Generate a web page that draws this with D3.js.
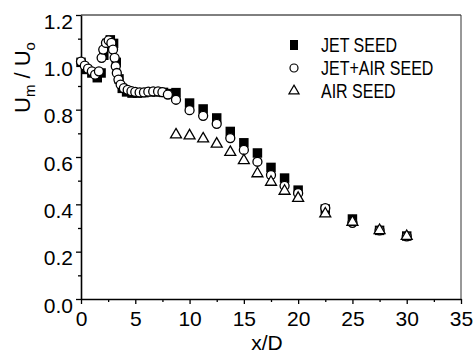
<!DOCTYPE html>
<html>
<head>
<meta charset="utf-8">
<script src="https://cdn.jsdelivr.net/npm/d3@7"></script>
<style>
  html, body { margin: 0; padding: 0; background: #fff; }
  svg { display: block; }
  text { font-family: "Liberation Sans", Arial, sans-serif; fill: #000; }
</style>
</head>
<body>
<svg id="chart" width="475" height="354"></svg>
<script>
// ---- data ----
const jetSeedX = [0, 0.5, 1.0, 1.5, 1.85, 2.1, 2.4, 2.7, 3.0, 3.25, 3.5, 3.8, 4.2, 4.7, 5.2, 5.8, 6.4, 7.0, 7.6, 8.1,
                  8.75, 10, 11.25, 12.5, 13.75, 15, 16.25, 17.5, 18.75, 20, 22.5, 25, 27.5, 30];
const jetSeedY = [1.0, 0.97, 0.955, 0.935, 0.955, 1.03, 1.08, 1.095, 1.08, 1.0, 0.93, 0.89, 0.875, 0.87, 0.87, 0.872, 0.875, 0.875, 0.873, 0.868,
                  0.872, 0.828, 0.803, 0.765, 0.708, 0.66, 0.617, 0.556, 0.511, 0.46, 0.38, 0.338, 0.29, 0.266];

const jetAirX = [0, 0.35, 0.65, 1.0, 1.3, 1.65, 1.9, 2.05, 2.3, 2.55, 2.8, 2.95, 3.1, 3.2, 3.3, 3.45, 3.65, 3.95, 4.3, 4.65,
                 5.0, 5.4, 5.8, 6.2, 6.65, 7.1, 7.5, 8.0, 8.75, 10, 11.25, 12.5, 13.75, 15, 16.25, 17.5, 18.75, 20, 22.5, 25, 27.5, 30];
const jetAirY = [1.003, 0.986, 0.973, 0.962, 0.948, 0.962, 1.019, 1.054, 1.082, 1.093, 1.082, 1.054, 1.019, 0.983, 0.955, 0.927, 0.906, 0.891, 0.884, 0.878,
                 0.875, 0.873, 0.873, 0.876, 0.877, 0.877, 0.874, 0.864, 0.842, 0.798, 0.774, 0.74, 0.68, 0.63, 0.58, 0.524, 0.478, 0.447, 0.384, 0.322, 0.29, 0.265];

const airSeedX = [8.75, 10, 11.25, 12.5, 13.75, 15, 16.25, 17.5, 18.75, 20, 22.5, 25, 27.5, 30];
const airSeedY = [0.694, 0.69, 0.677, 0.655, 0.62, 0.585, 0.53, 0.494, 0.456, 0.426, 0.36, 0.325, 0.29, 0.265];

const seriesNames = ["JET SEED", "JET+AIR SEED", "AIR SEED"];
const xTickValues = [0, 5, 10, 15, 20, 25, 30, 35];
const xMinorValues = [2.5, 7.5, 12.5, 17.5, 22.5, 27.5, 32.5];
const yTickValues = [0, 0.2, 0.4, 0.6, 0.8, 1.0, 1.2];
const yTickLabels = ["0.0", "0.2", "0.4", "0.6", "0.8", "1.0", "1.2"];
const yMinorValues = [0.1, 0.3, 0.5, 0.7, 0.9, 1.1];
const xTitle = "x/D";

// ---- layout ----
const L = 81, R = 461, T = 15, B = 299;
const svg = d3.select("#chart");
const x = d3.scaleLinear().domain([0, 35]).range([L, R]);
const y = d3.scaleLinear().domain([0, 1.2]).range([B, T]);

// frame top/right
svg.append("line").attr("x1", L).attr("x2", R).attr("y1", T).attr("y2", T)
  .attr("stroke", "#000").attr("stroke-width", 1);
svg.append("line").attr("x1", R).attr("x2", R).attr("y1", T).attr("y2", B)
  .attr("stroke", "#333").attr("stroke-width", 1);

// minor ticks
svg.append("g").attr("transform", `translate(0,${B})`)
  .call(d3.axisBottom(x).tickValues(xMinorValues).tickSize(3).tickFormat(""))
  .call(g => g.select(".domain").remove())
  .selectAll("line").attr("stroke-width", 1.3);
svg.append("g").attr("transform", `translate(${L},0)`)
  .call(d3.axisLeft(y).tickValues(yMinorValues).tickSize(3).tickFormat(""))
  .call(g => g.select(".domain").remove())
  .selectAll("line").attr("stroke-width", 1.3);

// major axes
const xAxis = svg.append("g").attr("transform", `translate(0,${B})`)
  .call(d3.axisBottom(x).tickValues(xTickValues).tickSize(5).tickSizeOuter(0).tickFormat(d3.format("d")));
xAxis.select(".domain").attr("stroke-width", 1.6);
xAxis.selectAll(".tick line").attr("stroke-width", 1.3);
xAxis.selectAll(".tick text").attr("y", 27).attr("dy", 0)
  .style("font-size", "21px").style("font-family", "'Liberation Sans', Arial, sans-serif");

const yAxis = svg.append("g").attr("transform", `translate(${L},0)`)
  .call(d3.axisLeft(y).tickValues(yTickValues).tickSize(5).tickSizeOuter(0)
    .tickFormat((d, i) => yTickLabels[i]));
yAxis.select(".domain").attr("stroke-width", 1.6);
yAxis.selectAll(".tick line").attr("stroke-width", 1.3);
yAxis.selectAll(".tick text").attr("x", -8).attr("dy", "0.62em")
  .style("font-size", "21px").style("font-family", "'Liberation Sans', Arial, sans-serif");

// axis titles
svg.append("text").attr("x", 267).attr("y", 350).attr("text-anchor", "middle")
  .style("font-size", "21px").text(xTitle);

const yt = svg.append("text").attr("transform", "translate(30,113) rotate(-90)")
  .attr("text-anchor", "start").style("font-size", "22px");
yt.append("tspan").text("U");
yt.append("tspan").attr("dy", 5).style("font-size", "15px").text("m");
yt.append("tspan").attr("dy", -5).text("\u00a0/\u00a0U");
yt.append("tspan").attr("dy", 5).style("font-size", "15px").text("o");

// ---- marks ----
const sq = d3.symbol().type(d3.symbolSquare).size(90);
const tri = d3.symbol().type(d3.symbolTriangle).size(52);

const plot = svg.append("g");
plot.selectAll("path.sq").data(d3.zip(jetSeedX, jetSeedY)).join("path")
  .attr("class", "sq").attr("d", sq())
  .attr("transform", d => `translate(${x(d[0])},${y(d[1])})`)
  .attr("fill", "#000");

plot.selectAll("circle.ci").data(d3.zip(jetAirX, jetAirY)).join("circle")
  .attr("class", "ci").attr("cx", d => x(d[0])).attr("cy", d => y(d[1])).attr("r", 4.5)
  .attr("fill", "#fff").attr("stroke", "#000").attr("stroke-width", 1.3);

plot.selectAll("path.tr").data(d3.zip(airSeedX, airSeedY)).join("path")
  .attr("class", "tr").attr("d", tri())
  .attr("transform", d => `translate(${x(d[0])},${y(d[1])})`)
  .attr("fill", "#fff").attr("stroke", "#000").attr("stroke-width", 1.3);

// ---- legend ----
const legY = [45, 68, 91];
const leg = svg.append("g");
leg.append("rect").attr("x", 290).attr("y", legY[0] - 5).attr("width", 8).attr("height", 10).attr("fill", "#000");
leg.append("circle").attr("cx", 294).attr("cy", legY[1]).attr("r", 4)
  .attr("fill", "#fff").attr("stroke", "#000").attr("stroke-width", 1.2);
leg.append("path").attr("d", d3.symbol().type(d3.symbolTriangle).size(45)())
  .attr("transform", `translate(294,${legY[2]})`)
  .attr("fill", "#fff").attr("stroke", "#000").attr("stroke-width", 1.2);
seriesNames.forEach((n, i) => {
  leg.append("text").attr("transform", `translate(321,${legY[i] + 7}) scale(1,1.22)`)
    .style("font-size", "16px").text(n);
});
</script>
</body>
</html>
